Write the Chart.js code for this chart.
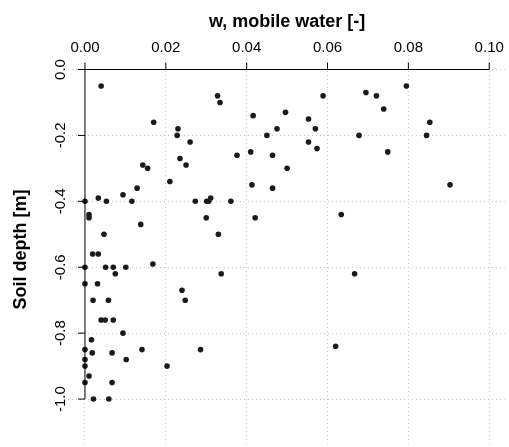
<!DOCTYPE html>
<html>
<head>
<meta charset="utf-8">
<script src="https://cdn.jsdelivr.net/npm/chart.js@4/dist/chart.umd.min.js"></script>
<style>
  html, body { margin: 0; padding: 0; background: #fff; }
  #myChart { display: block; }
</style>
</head>
<body>
<canvas id="myChart" width="509" height="447"></canvas>
<script>
// mobile water fraction (x) and soil depth (y)
const wValues = [
  0.004, 0.017, 0.023, 0.0228, 0.026, 0.0235, 0.025, 0.0143, 0.0155, 0.021,
  0.0129, 0.0094, 0.0033, 0, 0.0053, 0.0116, 0.0273, 0.001, 0.001, 0.0138,
  0.0047, 0.0019, 0.0033, 0.0168, 0, 0.0051, 0.007, 0.0101, 0.0075, 0,
  0.0031, 0.002, 0.0058, 0.004, 0.005, 0.007, 0.0094, 0.0016, 0, 0.0018,
  0.0067, 0.0141, 0.0102, 0, 0, 0.0203, 0.001, 0, 0.0067, 0.0021,
  0.0059, 0.0286, 0.0328, 0.0334, 0.0416, 0.0496, 0.0553, 0.0589, 0.057, 0.0475,
  0.045, 0.0553, 0.0574, 0.0376, 0.041, 0.0464, 0.05, 0.0413, 0.0464, 0.0301,
  0.0306, 0.0311, 0.0361, 0.030, 0.0421, 0.033, 0.0795, 0.0695, 0.0721, 0.0739,
  0.0853, 0.0678, 0.0845, 0.0749, 0.0903, 0.0634, 0.0337, 0.0667, 0.024, 0.0248,
  0.062
];
const depthValues = [
  -0.05, -0.16, -0.18, -0.20, -0.22, -0.27, -0.29, -0.29, -0.30, -0.34,
  -0.36, -0.38, -0.39, -0.40, -0.40, -0.40, -0.40, -0.44, -0.45, -0.47,
  -0.50, -0.56, -0.56, -0.59, -0.60, -0.60, -0.60, -0.60, -0.62, -0.65,
  -0.65, -0.70, -0.70, -0.76, -0.76, -0.76, -0.80, -0.82, -0.85, -0.86,
  -0.86, -0.85, -0.88, -0.88, -0.90, -0.90, -0.93, -0.95, -0.95, -1.0,
  -1.0, -0.85, -0.08, -0.10, -0.14, -0.13, -0.15, -0.08, -0.18, -0.18,
  -0.20, -0.22, -0.24, -0.26, -0.25, -0.26, -0.30, -0.35, -0.36, -0.40,
  -0.40, -0.39, -0.40, -0.45, -0.45, -0.50, -0.05, -0.07, -0.08, -0.12,
  -0.16, -0.20, -0.20, -0.25, -0.35, -0.44, -0.62, -0.62, -0.67, -0.70,
  -0.84
];
const xTicks = [0, 0.02, 0.04, 0.06, 0.08, 0.10];
const yTicks = [0, -0.2, -0.4, -0.6, -0.8, -1.0];
const xTitle = 'w, mobile water [-]';
const yTitle = 'Soil depth [m]';

const points = wValues.map((w, i) => ({ x: w, y: depthValues[i] }));

const FONT = '"Liberation Sans", Arial, sans-serif';

// R-style axes: lines only across the tick range, ticks outward, rotated y labels
const rAxes = {
  id: 'rAxes',
  afterDraw(chart) {
    const ctx = chart.ctx;
    const xs = chart.scales.x;
    const ys = chart.scales.y;
    const area = chart.chartArea;
    const x0 = xs.getPixelForValue(xTicks[0]);
    const x1 = xs.getPixelForValue(xTicks[xTicks.length - 1]);
    const y0 = ys.getPixelForValue(yTicks[0]);
    const y1 = ys.getPixelForValue(yTicks[yTicks.length - 1]);
    const tl = 7;

    ctx.save();
    ctx.strokeStyle = '#000';
    ctx.lineWidth = 1;
    ctx.beginPath();
    ctx.moveTo(x0, y0); ctx.lineTo(x1, y0);
    xTicks.forEach(v => {
      const px = xs.getPixelForValue(v);
      ctx.moveTo(px, y0); ctx.lineTo(px, y0 - tl);
    });
    ctx.moveTo(x0, y0); ctx.lineTo(x0, y1);
    yTicks.forEach(v => {
      const py = ys.getPixelForValue(v);
      ctx.moveTo(x0, py); ctx.lineTo(x0 - tl, py);
    });
    ctx.stroke();

    ctx.fillStyle = '#000';
    ctx.font = '15px ' + FONT;
    ctx.textAlign = 'center';
    ctx.textBaseline = 'alphabetic';
    xTicks.forEach(v => {
      ctx.fillText(v.toFixed(2), xs.getPixelForValue(v), y0 - 18);
    });
    yTicks.forEach(v => {
      ctx.save();
      ctx.translate(x0 - 19.5, ys.getPixelForValue(v));
      ctx.rotate(-Math.PI / 2);
      ctx.fillText(v.toFixed(1), 0, 0);
      ctx.restore();
    });

    ctx.font = 'bold 18px ' + FONT;
    ctx.fillText(xTitle, (area.left + area.right) / 2, 27);
    ctx.save();
    ctx.translate(26, (area.top + area.bottom) / 2);
    ctx.rotate(-Math.PI / 2);
    ctx.fillText(yTitle, 0, 0);
    ctx.restore();
    ctx.restore();
  }
};

const myChart = new Chart('myChart', {
  type: 'scatter',
  data: {
    datasets: [{
      data: points,
      pointRadius: 2.8,
      pointHoverRadius: 2.8,
      pointBackgroundColor: '#1a1a1a',
      pointBorderWidth: 0
    }]
  },
  options: {
    responsive: false,
    animation: false,
    devicePixelRatio: 1,
    layout: { padding: { left: 68, top: 55, right: 0, bottom: 0 } },
    plugins: { legend: { display: false }, tooltip: { enabled: false } },
    scales: {
      x: {
        type: 'linear',
        position: 'top',
        min: -0.0042,
        max: 0.1042,
        afterBuildTicks: s => { s.ticks = xTicks.map(v => ({ value: v })); },
        ticks: { display: false },
        grid: { color: '#c8c8c8', lineWidth: 1, drawTicks: false },
        border: { display: false, dash: [1, 3] },
        afterFit: s => { s.height = 0; }
      },
      y: {
        type: 'linear',
        min: -1.137,
        max: 0.044,
        afterBuildTicks: s => { s.ticks = yTicks.map(v => ({ value: v })); },
        ticks: { display: false },
        grid: { color: '#c8c8c8', lineWidth: 1, drawTicks: false },
        border: { display: false, dash: [1, 3] },
        afterFit: s => { s.width = 0; }
      }
    }
  },
  plugins: [rAxes]
});
</script>
</body>
</html>
